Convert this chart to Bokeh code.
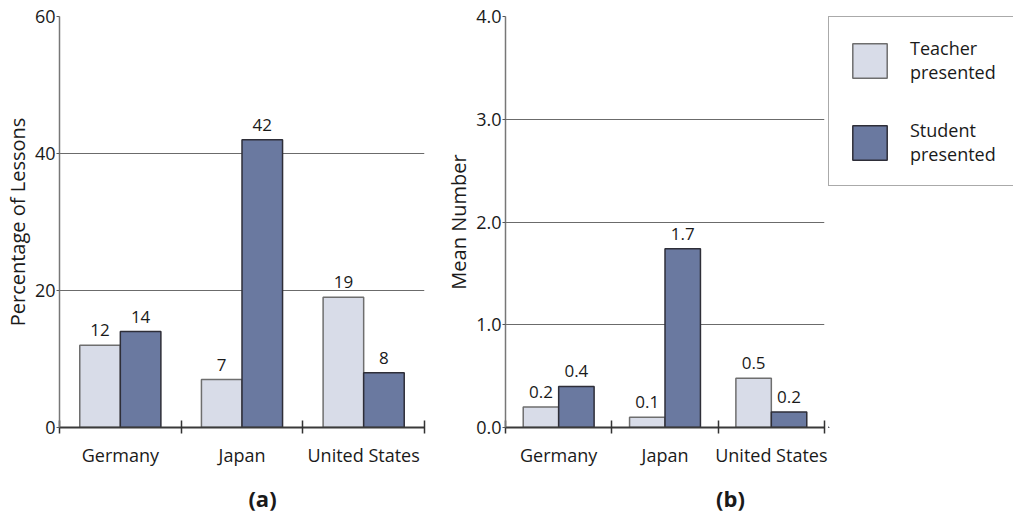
from bokeh.plotting import figure
from bokeh.models import (Range1d, FixedTicker, ColumnDataSource, LabelSet, Label,
                          Legend, LegendItem)
from bokeh.layouts import row, column
from bokeh.core.properties import value
from bokeh.embed import file_html
from bokeh.resources import INLINE
import numpy as np

# ---------------- data ----------------
countries = ["Germany", "Japan", "United States"]
series = ["Teacher\npresented", "Student\npresented"]

pct_teacher = [12, 7, 19]
pct_student = [14, 42, 8]
pct_teacher_labels = ["12", "7", "19"]
pct_student_labels = ["14", "42", "8"]
pct_ticks = [0, 20, 40, 60]
pct_tick_labels = ["0", "20", "40", "60"]

mean_teacher = [0.2, 0.1, 0.48]
mean_student = [0.4, 1.74, 0.15]
mean_teacher_labels = ["0.2", "0.1", "0.5"]
mean_student_labels = ["0.4", "1.7", "0.2"]
mean_ticks = [0.0, 1.0, 2.0, 3.0, 4.0]
mean_tick_labels = ["0.0", "1.0", "2.0", "3.0", "4.0"]

panel_tags = ["(a)", "(b)"]
y_titles = ["Percentage of Lessons", "Mean Number"]

# ---------------- style ----------------
FONT = "Open Sans"
TEXT = "#1a1a1a"
TEACHER_FILL = "#d8dce8"
STUDENT_FILL = "#6a79a0"
TEACHER_LINE = "#6e6e6e"
STUDENT_LINE = "#2e2e38"
GRID = "#6b6b6b"
PANEL_H = 478
TAG_H = 35
BAR_W = 1.0 / 3.0


def bar_source(teacher, student, t_labels, s_labels):
    centers = np.arange(len(countries)) + 0.5
    return ColumnDataSource(dict(
        xt=centers - BAR_W / 2, xs=centers + BAR_W / 2,
        teacher=teacher, student=student, tl=t_labels, sl=s_labels))


def add_bars(p, src):
    rt = p.vbar(x="xt", top="teacher", bottom=0, width=BAR_W, source=src,
                fill_color=TEACHER_FILL, line_color=TEACHER_LINE, line_width=1.5)
    rs = p.vbar(x="xs", top="student", bottom=0, width=BAR_W, source=src,
                fill_color=STUDENT_FILL, line_color=STUDENT_LINE, line_width=1.5)
    return rt, rs


def make_panel(src, ticks, tick_labels, ymax, y_title, width, borders):
    n = len(countries)
    centers = np.arange(n) + 0.5
    p = figure(width=width, height=PANEL_H, output_backend="svg",
               toolbar_location=None, x_range=Range1d(0, n),
               y_range=Range1d(0, ymax),
               min_border_left=borders[0], min_border_right=borders[1],
               min_border_top=borders[2], min_border_bottom=borders[3])
    p.outline_line_color = None
    p.background_fill_color = "white"
    p.border_fill_color = "white"

    add_bars(p, src)

    for xcol, ycol, lcol in (("xt", "teacher", "tl"), ("xs", "student", "sl")):
        ls = LabelSet(x=xcol, y=ycol, text=lcol, source=src, y_offset=9,
                      text_align="center", text_baseline="alphabetic",
                      text_font=value(FONT), text_font_size=value("17px"),
                      text_color=TEXT, background_fill_color="white")
        p.add_layout(ls)

    # x axis: labels at category centres, tick marks at category boundaries
    xa = p.xaxis[0]
    xa.ticker = FixedTicker(ticks=list(centers), minor_ticks=list(range(n + 1)))
    xa.major_label_overrides = {float(c): name for c, name in zip(centers, countries)}
    xa.major_tick_in = 0
    xa.major_tick_out = 0
    xa.minor_tick_in = 7
    xa.minor_tick_out = 6
    xa.minor_tick_line_color = "#333333"
    xa.minor_tick_line_width = 1.5
    xa.axis_line_color = "#3a3a3a"
    xa.axis_line_width = 2
    xa.major_label_standoff = 9
    xa.major_label_text_font = FONT
    xa.major_label_text_font_size = "18px"
    xa.major_label_text_color = TEXT

    ya = p.yaxis[0]
    ya.ticker = FixedTicker(ticks=ticks)
    ya.major_label_overrides = {float(t): l for t, l in zip(ticks, tick_labels)}
    ya.major_tick_in = 0
    ya.major_tick_out = 3
    ya.major_tick_line_color = "#555555"
    ya.minor_tick_line_color = None
    ya.axis_line_color = "#777777"
    ya.axis_line_width = 1.5
    ya.major_label_standoff = 1
    ya.major_label_text_font = FONT
    ya.major_label_text_font_size = "18px"
    ya.major_label_text_color = TEXT
    ya.axis_label = y_title
    ya.axis_label_text_font = FONT
    ya.axis_label_text_font_size = "20px"
    ya.axis_label_text_font_style = "normal"
    ya.axis_label_text_color = TEXT
    ya.axis_label_standoff = 1

    p.xgrid.visible = False
    p.ygrid.ticker = FixedTicker(ticks=ticks)
    p.ygrid.grid_line_color = GRID
    p.ygrid.grid_line_width = 1.2
    return p


src_a = bar_source(pct_teacher, pct_student, pct_teacher_labels, pct_student_labels)
src_b = bar_source(mean_teacher, mean_student, mean_teacher_labels, mean_student_labels)

pa = make_panel(src_a, pct_ticks, pct_tick_labels, 60, y_titles[0], 432,
                (54, 8, 12, PANEL_H - 12 - 416))
pb = make_panel(src_b, mean_ticks, mean_tick_labels, 4.0, y_titles[1], 396,
                (73, 4, 16, PANEL_H - 16 - 411))

# ---------------- legend panel ----------------
# the legend's swatches come from bar renderers whose data lie outside this
# panel's (empty) view, so only the legend itself is visible here
pl = figure(width=185, height=PANEL_H, output_backend="svg",
            toolbar_location=None, x_axis_type=None, y_axis_type=None,
            x_range=Range1d(100, 101), y_range=Range1d(100, 101),
            min_border_left=0, min_border_right=0, min_border_top=14,
            min_border_bottom=0)
pl.outline_line_color = None
lt, lsr = add_bars(pl, src_b)
legend = Legend(items=[LegendItem(label=series[0], renderers=[lt]),
                       LegendItem(label=series[1], renderers=[lsr])],
                location="top_left", margin=0, padding=19, spacing=34,
                glyph_width=43, glyph_height=43, label_height=43,
                label_width=110, label_standoff=19,
                label_text_font=FONT, label_text_font_size="18px",
                label_text_color=TEXT, label_text_line_height=1.2,
                border_line_color="#555555", border_line_width=1.5,
                background_fill_color="white", background_fill_alpha=1.0)
pl.add_layout(legend)

# ---------------- panel tags ----------------
pt = figure(width=1013, height=TAG_H, output_backend="svg",
            toolbar_location=None, x_axis_type=None, y_axis_type=None,
            x_range=Range1d(0, 1), y_range=Range1d(0, 1),
            min_border_left=0, min_border_right=0, min_border_top=0,
            min_border_bottom=0)
pt.outline_line_color = None
for tag, tx in zip(panel_tags, (262, 730)):
    pt.add_layout(Label(x=tx, y=1, x_units="screen", y_units="screen",
                        text=tag, text_align="center", text_baseline="bottom",
                        text_font=FONT, text_font_size="22px",
                        text_font_style="bold", text_color=TEXT))

layout = column(row(pa, pb, pl, spacing=0), pt, spacing=0)
open("out.html", "w").write(file_html(layout, INLINE))
